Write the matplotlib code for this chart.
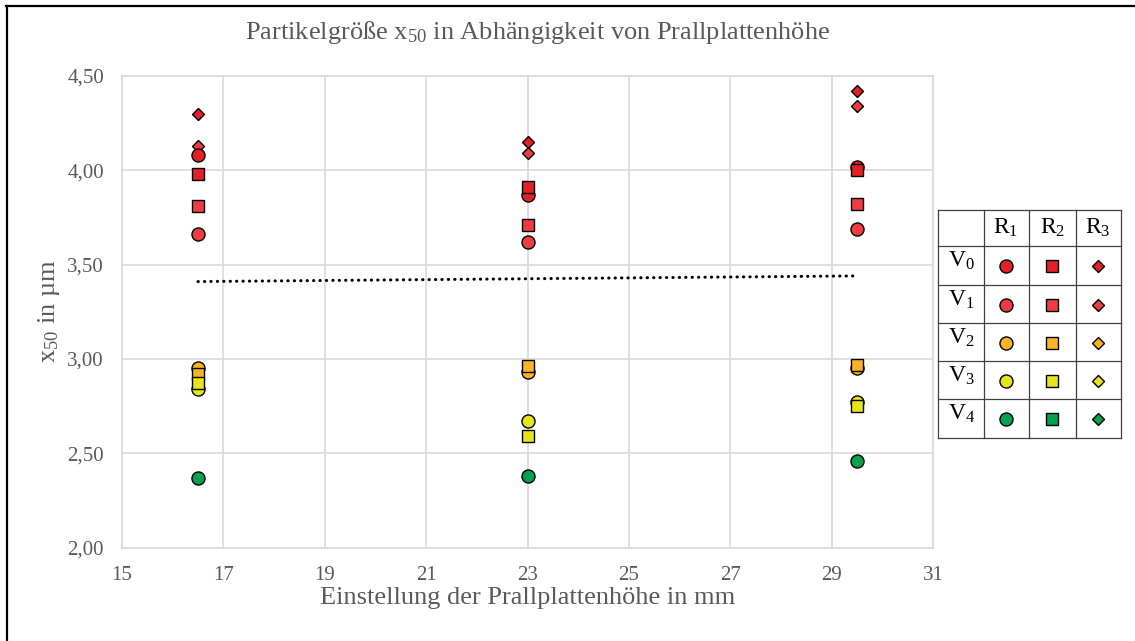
import matplotlib
matplotlib.use('Agg')
import matplotlib.pyplot as plt
from matplotlib.lines import Line2D
from matplotlib.ticker import FuncFormatter, FixedLocator

plt.rcParams['font.family'] = ['Liberation Serif', 'DejaVu Serif']
plt.rcParams['mathtext.default'] = 'regular'

# ---------------- data ----------------
heights = [16.5, 23.0, 29.5]

V0_R1 = [4.08, 3.87, 4.02]
V0_R2 = [3.98, 3.91, 4.00]
V0_R3 = [4.30, 4.15, 4.42]
V1_R1 = [3.66, 3.62, 3.69]
V1_R2 = [3.81, 3.71, 3.82]
V1_R3 = [4.13, 4.09, 4.34]
V2_R1 = [2.95, 2.93, 2.95]
V2_R2 = [2.92, 2.96, 2.97]
V3_R1 = [2.84, 2.67, 2.77]
V3_R2 = [2.87, 2.59, 2.75]
V4_R1 = [2.37, 2.38, 2.46]

trend_x = [16.5, 29.5]
trend_y = [3.41, 3.44]

x_ticks = [15, 17, 19, 21, 23, 25, 27, 29, 31]
y_ticks = [2.00, 2.50, 3.00, 3.50, 4.00, 4.50]

row_labels = ['V$_0$', 'V$_1$', 'V$_2$', 'V$_3$', 'V$_4$']
col_labels = ['R$_1$', 'R$_2$', 'R$_3$']

title = 'Partikelgröße x$_{50}$ in Abhängigkeit von Prallplattenhöhe'
xlabel = 'Einstellung der Prallplattenhöhe in mm'
ylabel = 'x$_{50}$ in µm'

# ---------------- styles ----------------
col = {'V0': '#e41f26', 'V1': '#ef3b41', 'V2': '#fbb326', 'V3': '#e6e51b', 'V4': '#00a14f'}
mk = {'R1': 'o', 'R2': 's', 'R3': 'D'}
msz = {'R1': 9.4, 'R2': 9.2, 'R3': 6.4}
text_gray = '#595959'
grid_gray = '#d9d9d9'

W, H = 1135, 641
fig = plt.figure(figsize=(W / 100, H / 100), dpi=100)
ax = fig.add_axes([122 / W, 1 - 547.5 / H, (933 - 122) / W, (547.5 - 76) / H])

# draw order: diamonds, circles, squares
series = [
    (V0_R3, 'V0', 'R3'), (V1_R3, 'V1', 'R3'),
    (V0_R1, 'V0', 'R1'), (V1_R1, 'V1', 'R1'), (V2_R1, 'V2', 'R1'), (V3_R1, 'V3', 'R1'), (V4_R1, 'V4', 'R1'),
    (V0_R2, 'V0', 'R2'), (V1_R2, 'V1', 'R2'), (V2_R2, 'V2', 'R2'), (V3_R2, 'V3', 'R2'),
]
for vals, v, r in series:
    ax.plot(heights, vals, linestyle='none', marker=mk[r], ms=msz[r],
            mfc=col[v], mec='black', mew=1.0, zorder=3)

ax.plot(trend_x, trend_y, color='black', lw=2.2, linestyle=(0, (0.1, 2.0)),
        dash_capstyle='round', zorder=2)

ax.set_xlim(x_ticks[0], x_ticks[-1])
ax.set_ylim(y_ticks[0], y_ticks[-1])
ax.xaxis.set_major_locator(FixedLocator(x_ticks))
ax.yaxis.set_major_locator(FixedLocator(y_ticks))
ax.yaxis.set_major_formatter(FuncFormatter(lambda v, p: f'{v:.2f}'.replace('.', ',')))
ax.xaxis.set_major_formatter(FuncFormatter(lambda v, p: f'{v:.0f}'))
ax.tick_params(length=0, labelsize=15, colors=text_gray)
ax.tick_params(axis='y', pad=13)
ax.tick_params(axis='x', pad=13)
ax.grid(True, color=grid_gray, lw=1.2, zorder=0)
ax.set_axisbelow(True)
for s in ax.spines.values():
    s.set_color(grid_gray)
    s.set_linewidth(1.2)

fig.text(538 / W, 1 - 32 / H, title, ha='center', va='center', fontsize=19, color=text_gray)
fig.text(527.5 / W, 1 - 598 / H, xlabel, ha='center', va='center', fontsize=19, color=text_gray)
fig.text(49 / W, 1 - 311 / H, ylabel, ha='center', va='center', rotation=90, fontsize=19, color=text_gray)

# ---------------- legend table ----------------
xs = [937.5, 983.5, 1028.5, 1076, 1120.5]
ys = [209.5, 245.5, 284.5, 322.5, 360.5, 399, 437.5]
tax = fig.add_axes([0, 0, 1, 1], facecolor='none')
tax.set_xlim(0, W)
tax.set_ylim(H, 0)
tax.axis('off')
for x in xs:
    tax.add_line(Line2D([x, x], [ys[0], ys[-1]], color='#404040', lw=0.9))
for y in ys:
    tax.add_line(Line2D([xs[0], xs[-1]], [y, y], color='#404040', lw=0.9))
for j, lab in enumerate(col_labels):
    tax.text((xs[j + 1] + xs[j + 2]) / 2, (ys[0] + ys[1]) / 2, lab, ha='center', va='center',
             fontsize=17, color='black')
vkeys = ['V0', 'V1', 'V2', 'V3', 'V4']
rkeys = ['R1', 'R2', 'R3']
for i, lab in enumerate(row_labels):
    yc = (ys[i + 1] + ys[i + 2]) / 2
    tax.text(xs[0] + 11, yc - 4, lab, ha='left', va='center', fontsize=17, color='black')
    for j, r in enumerate(rkeys):
        tax.plot([(xs[j + 1] + xs[j + 2]) / 2], [yc + 1], linestyle='none', marker=mk[r], ms=msz[r],
                 mfc=col[vkeys[i]], mec='black', mew=1.0)

# outer frame (left and top)
tax.add_line(Line2D([6.5, 6.5], [5.5, H], color='black', lw=1.6))
tax.add_line(Line2D([5.5, W], [5.5, 5.5], color='black', lw=1.6))

fig.savefig('out.png', dpi=100, facecolor='white')
